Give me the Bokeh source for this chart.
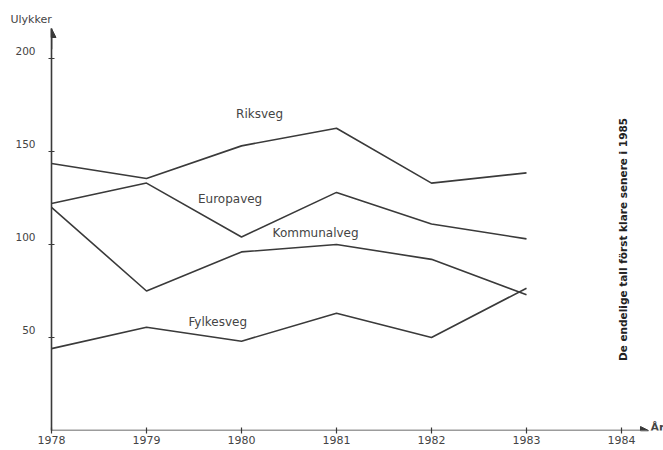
from bokeh.plotting import figure
from bokeh.models import Range1d, Label, Arrow, NormalHead, FixedTicker
from bokeh.embed import file_html
from bokeh.resources import INLINE

years = [1978, 1979, 1980, 1981, 1982, 1983]
riksveg = [143.5, 135.5, 153, 162.5, 133, 138.5]
europaveg = [122, 133, 104, 128, 111, 103]
kommunalveg = [120, 75, 96, 100, 92, 73]
fylkesveg = [44, 55.5, 48, 63, 50, 76.5]

x_ticks = [1978, 1979, 1980, 1981, 1982, 1983, 1984]
y_ticks = [50, 100, 150, 200]

series = [
    ("Riksveg", riksveg, 1980.19, 170.0),
    ("Europaveg", europaveg, 1979.88, 124.7),
    ("Kommunalveg", kommunalveg, 1980.78, 105.9),
    ("Fylkesveg", fylkesveg, 1979.75, 58.1),
]

note = "De endelige tall först klare senere i 1985"

ink = "#3a3a3a"
font = "DejaVu Sans"

X_END = 1984.442   # frame reaches the right edge of the canvas
ARROW_X = 1984.284
Y_END = 216.1

p = figure(width=663, height=450, output_backend="svg", toolbar_location=None,
           x_range=Range1d(1978, X_END), y_range=Range1d(0, Y_END),
           min_border_left=51, min_border_right=0, min_border_top=28, min_border_bottom=20)
p.outline_line_color = None
p.grid.visible = False
p.background_fill_color = "white"
p.border_fill_color = "white"

p.title.text = "Ulykker"
p.title.align = "left"
p.title.offset = -41
p.title.standoff = 5
p.title.text_font = font
p.title.text_font_size = "11px"
p.title.text_font_style = "normal"
p.title.text_color = "#444444"

for ax in (p.xaxis[0], p.yaxis[0]):
    ax.axis_line_color = ink
    ax.axis_line_width = 1.6
    ax.major_tick_line_color = ink
    ax.major_tick_line_width = 1.2
    ax.major_tick_in = 3
    ax.major_tick_out = 3
    ax.minor_tick_line_color = None
    ax.major_label_text_font = font
    ax.major_label_text_color = "#444444"

p.xaxis.axis_line_color = None  # drawn as an arrow below
p.xaxis.ticker = FixedTicker(ticks=x_ticks)
p.yaxis.ticker = FixedTicker(ticks=y_ticks)
p.xaxis.major_label_text_font_size = "11px"
p.xaxis.major_label_standoff = 2
p.yaxis.major_label_text_font_size = "10.5px"
p.yaxis.major_label_standoff = 13
# the hand-lettered labels sit a little above their ticks
p.yaxis.major_label_overrides = {t: f"{t}\n" for t in y_ticks}

for name, vals, lx, ly in series:
    p.line(years, vals, line_color=ink, line_width=1.6)
    p.add_layout(Label(x=lx, y=ly, text=name, text_font=font, text_font_size="12px",
                       text_color="#444444", text_align="center", text_baseline="middle"))

# axis arrows
p.add_layout(Arrow(x_start=1978, y_start=0, x_end=ARROW_X, y_end=0, line_color=ink,
                   line_width=1.6, end=NormalHead(size=8, fill_color=ink, line_color=ink)))
p.add_layout(Arrow(x_start=1978, y_start=205, x_end=1978, y_end=Y_END, line_color=ink,
                   line_width=1.6, end=NormalHead(size=9, fill_color=ink, line_color=ink)))

p.add_layout(Label(x=1984.305, y=1.6, text="År", text_font=font, text_font_size="11px",
                   text_font_style="bold", text_color="#444444", text_align="left",
                   text_baseline="middle"))
p.add_layout(Label(x=1984.02, y=102.7, text=note, angle=1.5708, text_font=font,
                   text_font_size="10.5px", text_font_style="bold", text_color="#222222",
                   text_align="center", text_baseline="middle"))

open("out.html", "w").write(file_html(p, INLINE))
